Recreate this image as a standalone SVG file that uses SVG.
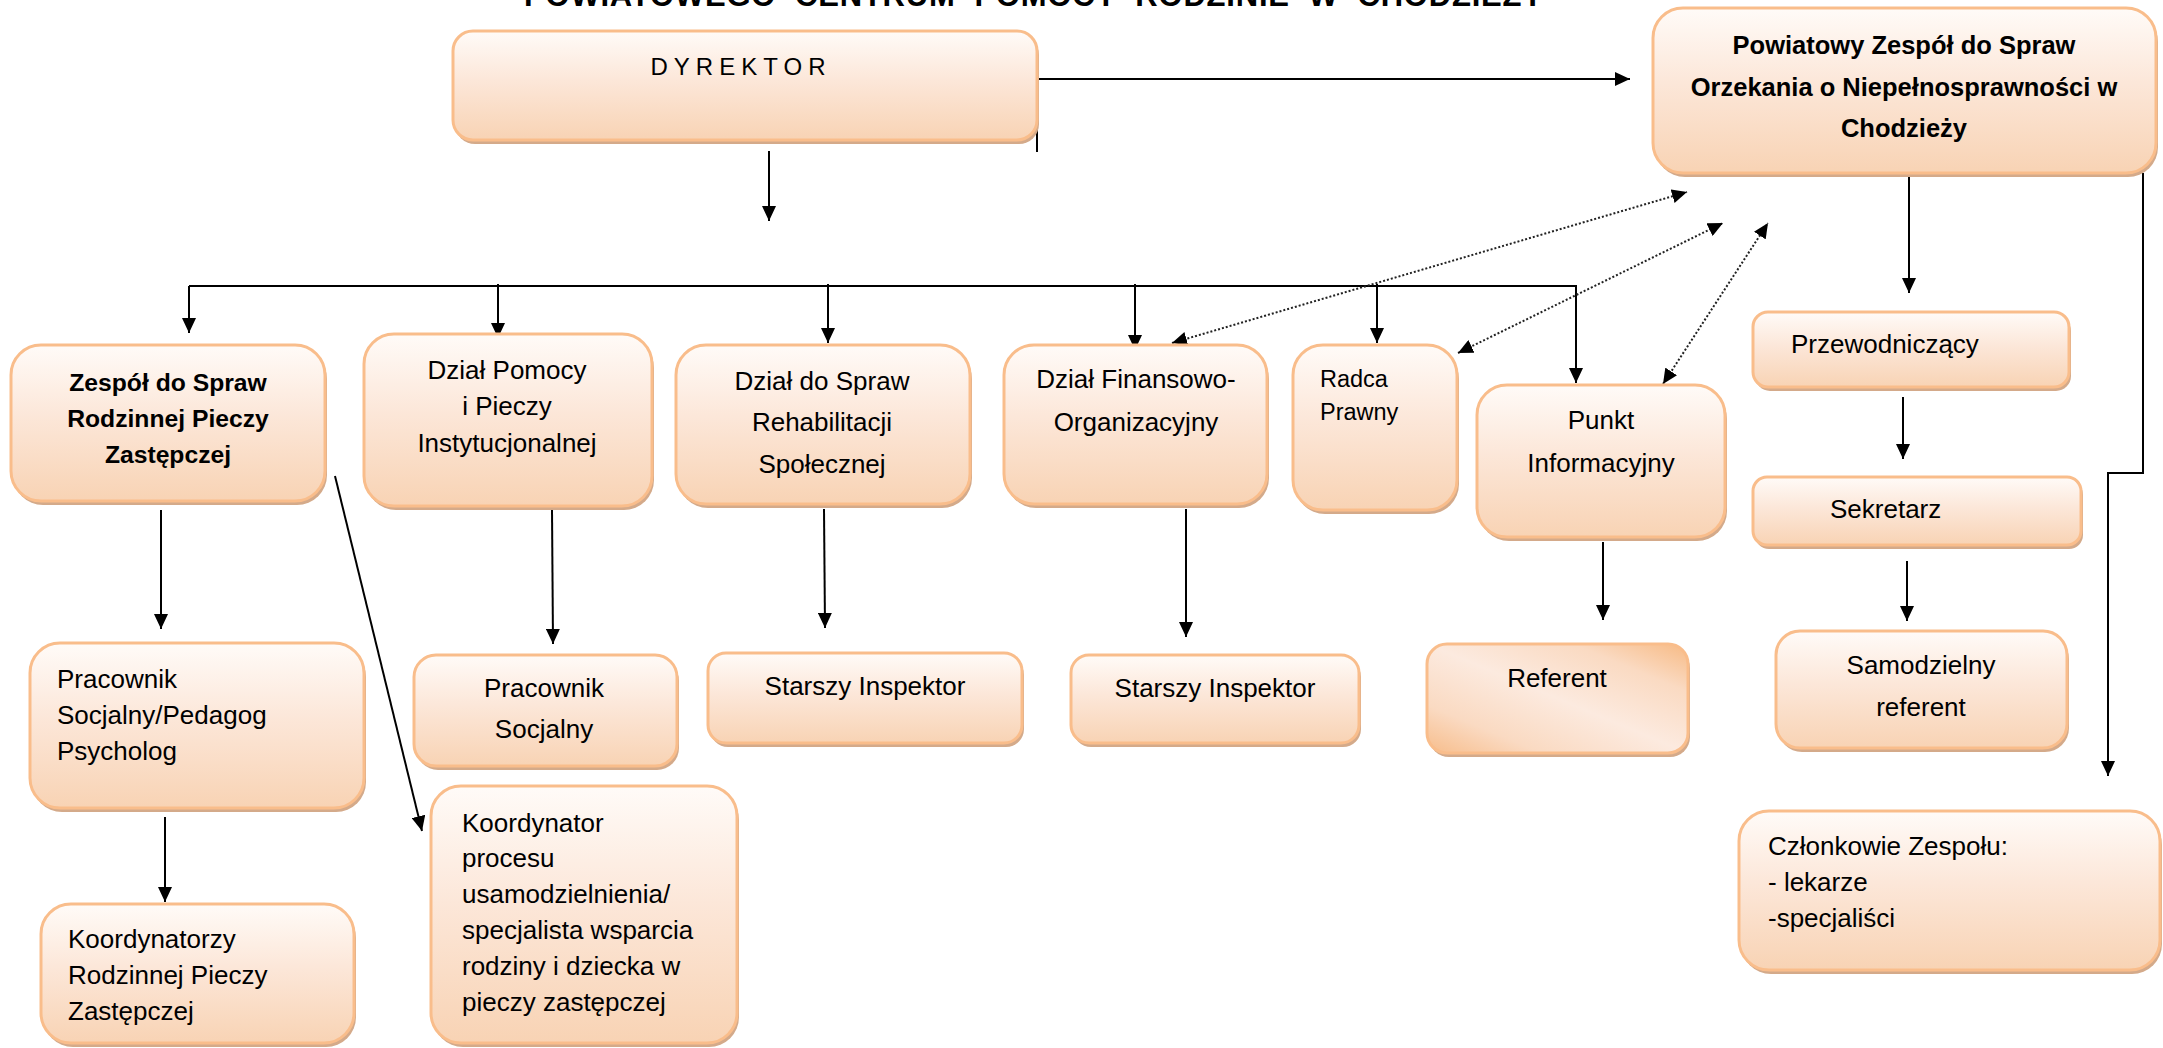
<svg xmlns="http://www.w3.org/2000/svg" width="2163" height="1048" viewBox="0 0 2163 1048">
<defs>
<linearGradient id="gv" x1="0" y1="0" x2="0" y2="1">
<stop offset="0" stop-color="#FFFBF8"/>
<stop offset="0.45" stop-color="#FCE7D9"/>
<stop offset="1" stop-color="#F8D3B4"/>
</linearGradient>
<linearGradient id="gd" x1="1" y1="0" x2="0" y2="1">
<stop offset="0" stop-color="#F7BA84"/>
<stop offset="0.22" stop-color="#FADAC2"/>
<stop offset="0.5" stop-color="#FCEADF"/>
<stop offset="0.78" stop-color="#FADAC2"/>
<stop offset="1" stop-color="#F7BD8B"/>
</linearGradient>
<marker id="ah" markerUnits="userSpaceOnUse" viewBox="0 0 15 14" refX="15" refY="7" markerWidth="15" markerHeight="14" orient="auto-start-reverse">
<path d="M0,0 L15,7 L0,14 z" fill="#000"/>
</marker>
</defs>
<style>
.sh{fill:#D4AA8A}
.bx{fill:url(#gv);stroke:#F9BD8B;stroke-width:3}
.bxd{fill:url(#gd);stroke:#F9BD8B;stroke-width:3}
text{font-family:"Liberation Sans",Arial,sans-serif;fill:#000}
.t{font-size:26px}
.c{text-anchor:middle}
.b{font-weight:bold}
.ln{fill:none;stroke:#000;stroke-width:2}
.ar{fill:none;stroke:#000;stroke-width:2;marker-end:url(#ah)}
.dt{fill:none;stroke:#222;stroke-width:2;stroke-dasharray:2 2;marker-start:url(#ah);marker-end:url(#ah)}
</style>
<rect width="2163" height="1048" fill="#fff"/>
<text x="524" y="6" class="b" font-size="31" textLength="1019" lengthAdjust="spacing" xml:space="preserve">POWIATOWEGO  CENTRUM  POMOCY  RODZINIE  W  CHODZIEŻY</text>

<g id="connectors">
<path class="ar" d="M1037,79 H1630"/>
<path class="ln" d="M1037,127 V152"/>
<path class="ar" d="M769,151 V221"/>
<path class="ln" d="M189,286 H1576"/>
<path class="ar" d="M189,286 V333"/>
<path class="ar" d="M498,284 V338"/>
<path class="ar" d="M828,284 V343"/>
<path class="ar" d="M1135,284 V350"/>
<path class="ar" d="M1377,284 V343"/>
<path class="ar" d="M1576,285 V383"/>
<path class="ar" d="M161,510 V629"/>
<path class="ar" d="M335,476 L422,831"/>
<path class="ar" d="M165,817 V902"/>
<path class="ar" d="M552,510 L553,644"/>
<path class="ar" d="M824,509 L825,628"/>
<path class="ar" d="M1186,509 V637"/>
<path class="ar" d="M1603,542 V620"/>
<path class="ar" d="M1909,173 V293"/>
<path class="ar" d="M1903,397 V459"/>
<path class="ar" d="M1907,561 V621"/>
<path class="ar" d="M2143,173 V473 H2108 V776"/>
<path class="dt" d="M1172,343 L1687,192"/>
<path class="dt" d="M1458,353 L1723,223"/>
<path class="dt" d="M1663,384 L1768,223"/>
</g>

<g id="dyrektor">
<rect class="sh" x="455" y="35" width="584" height="109" rx="20"/>
<rect class="bx" x="453" y="31" width="584" height="109" rx="20"/>
<text x="738" y="75" class="c" font-size="24" textLength="175" lengthAdjust="spacing">DYREKTOR</text>
</g>

<g id="powiatowy-zespol">
<rect class="sh" x="1655" y="12" width="503" height="165" rx="30"/>
<rect class="bx" x="1653" y="8" width="503" height="165" rx="30"/>
<text class="b c" font-size="25.5" x="1904" y="54">Powiatowy Zespół do Spraw</text>
<text class="b c" font-size="25.5" x="1904" y="96">Orzekania o Niepełnosprawności w</text>
<text class="b c" font-size="25.5" x="1904" y="137">Chodzieży</text>
</g>

<g id="zespol-rpz">
<rect class="sh" x="13" y="349" width="314" height="156" rx="30"/>
<rect class="bx" x="11" y="345" width="314" height="156" rx="30"/>
<text class="b c" font-size="24.7" x="168" y="391">Zespół do Spraw</text>
<text class="b c" font-size="24.7" x="168" y="427">Rodzinnej Pieczy</text>
<text class="b c" font-size="24.7" x="168" y="463">Zastępczej</text>
</g>

<g id="dzial-pomocy">
<rect class="sh" x="366" y="338" width="288" height="172" rx="30"/>
<rect class="bx" x="364" y="334" width="288" height="172" rx="30"/>
<text class="t c" x="507" y="379">Dział Pomocy</text>
<text class="t c" x="507" y="415">i Pieczy</text>
<text class="t c" x="507" y="452">Instytucjonalnej</text>
</g>

<g id="dzial-rehabilitacji">
<rect class="sh" x="678" y="349" width="294" height="159" rx="30"/>
<rect class="bx" x="676" y="345" width="294" height="159" rx="30"/>
<text class="t c" x="822" y="390">Dział do Spraw</text>
<text class="t c" x="822" y="431">Rehabilitacji</text>
<text class="t c" x="822" y="473">Społecznej</text>
</g>

<g id="dzial-finansowy">
<rect class="sh" x="1006" y="349" width="263" height="159" rx="30"/>
<rect class="bx" x="1004" y="345" width="263" height="159" rx="30"/>
<text class="t c" x="1136" y="388">Dział Finansowo-</text>
<text class="t c" x="1136" y="431">Organizacyjny</text>
</g>

<g id="radca">
<rect class="sh" x="1295" y="349" width="164" height="165" rx="30"/>
<rect class="bx" x="1293" y="345" width="164" height="165" rx="30"/>
<text font-size="23.5" x="1320" y="387">Radca</text>
<text font-size="23.5" x="1320" y="420">Prawny</text>
</g>

<g id="punkt">
<rect class="sh" x="1479" y="389" width="248" height="152" rx="30"/>
<rect class="bx" x="1477" y="385" width="248" height="152" rx="30"/>
<text class="t c" x="1601" y="429">Punkt</text>
<text class="t c" x="1601" y="472">Informacyjny</text>
</g>

<g id="przewodniczacy">
<rect class="sh" x="1755" y="316" width="316" height="75" rx="15"/>
<rect class="bx" x="1753" y="312" width="316" height="75" rx="15"/>
<text class="t" x="1791" y="353">Przewodniczący</text>
</g>

<g id="sekretarz">
<rect class="sh" x="1755" y="481" width="328" height="68" rx="14"/>
<rect class="bx" x="1753" y="477" width="328" height="68" rx="14"/>
<text class="t" x="1830" y="518">Sekretarz</text>
</g>

<g id="samodzielny">
<rect class="sh" x="1778" y="635" width="291" height="117" rx="24"/>
<rect class="bx" x="1776" y="631" width="291" height="117" rx="24"/>
<text class="t c" x="1921" y="674">Samodzielny</text>
<text class="t c" x="1921" y="716">referent</text>
</g>

<g id="czlonkowie">
<rect class="sh" x="1741" y="815" width="421" height="159" rx="30"/>
<rect class="bx" x="1739" y="811" width="421" height="159" rx="30"/>
<text class="t" x="1768" y="855">Członkowie Zespołu:</text>
<text class="t" x="1768" y="891">- lekarze</text>
<text class="t" x="1768" y="927">-specjaliści</text>
</g>

<g id="pracownik-psycholog">
<rect class="sh" x="32" y="647" width="334" height="165" rx="30"/>
<rect class="bx" x="30" y="643" width="334" height="165" rx="30"/>
<text class="t" x="57" y="688">Pracownik</text>
<text class="t" x="57" y="724">Socjalny/Pedagog</text>
<text class="t" x="57" y="760">Psycholog</text>
</g>

<g id="koordynatorzy">
<rect class="sh" x="43" y="908" width="313" height="139" rx="30"/>
<rect class="bx" x="41" y="904" width="313" height="139" rx="30"/>
<text class="t" x="68" y="948">Koordynatorzy</text>
<text class="t" x="68" y="984">Rodzinnej Pieczy</text>
<text class="t" x="68" y="1020">Zastępczej</text>
</g>

<g id="pracownik-socjalny">
<rect class="sh" x="416" y="659" width="263" height="111" rx="22"/>
<rect class="bx" x="414" y="655" width="263" height="111" rx="22"/>
<text class="t c" x="544" y="697">Pracownik</text>
<text class="t c" x="544" y="738">Socjalny</text>
</g>

<g id="koordynator-procesu">
<rect class="sh" x="433" y="790" width="306" height="257" rx="30"/>
<rect class="bx" x="431" y="786" width="306" height="257" rx="30"/>
<text class="t" x="462" y="832">Koordynator</text>
<text class="t" x="462" y="867">procesu</text>
<text class="t" x="462" y="903">usamodzielnienia/</text>
<text class="t" x="462" y="939">specjalista wsparcia</text>
<text class="t" x="462" y="975">rodziny i dziecka w</text>
<text class="t" x="462" y="1011">pieczy zastępczej</text>
</g>

<g id="starszy-inspektor-1">
<rect class="sh" x="710" y="657" width="314" height="90" rx="18"/>
<rect class="bx" x="708" y="653" width="314" height="90" rx="18"/>
<text class="t c" x="865" y="695">Starszy Inspektor</text>
</g>

<g id="starszy-inspektor-2">
<rect class="sh" x="1073" y="659" width="288" height="88" rx="18"/>
<rect class="bx" x="1071" y="655" width="288" height="88" rx="18"/>
<text class="t c" x="1215" y="697">Starszy Inspektor</text>
</g>

<g id="referent">
<rect class="sh" x="1429" y="648" width="261" height="109" rx="20"/>
<rect class="bxd" x="1427" y="644" width="261" height="109" rx="20"/>
<text class="t c" x="1557" y="687">Referent</text>
</g>
</svg>
